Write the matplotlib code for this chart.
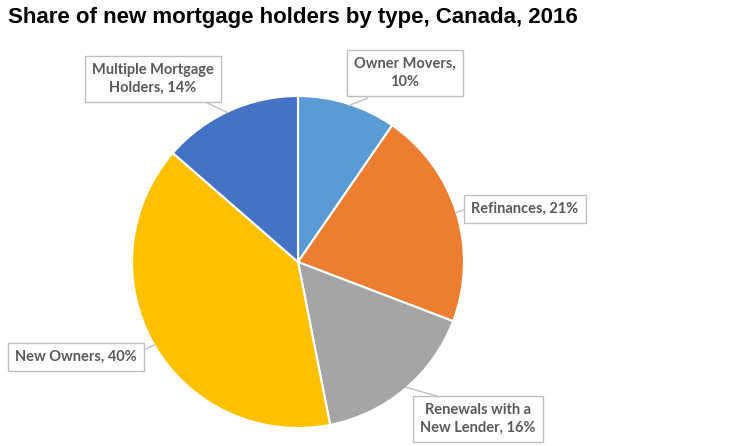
import numpy as np
import matplotlib.pyplot as plt

# data
categories = ["Owner Movers", "Refinances", "Renewals with a\nNew Lender", "New Owners", "Multiple Mortgage\nHolders"]
shares = [9.6, 21.2, 16.1, 39.5, 13.6]
label_names = ["Owner Movers,\n", "Refinances, ", "Renewals with a\nNew Lender, ", "New Owners, ", "Multiple Mortgage\nHolders, "]
colors = ["#5B9BD5", "#ED7D31", "#A5A5A5", "#FFC000", "#4472C4"]

W, H = 736, 446
fig = plt.figure(figsize=(W / 100, H / 100), dpi=100)
ax = fig.add_axes([0, 0, 1, 1])

cx, cy, r = 298, H - 262, 166
wedges, _ = ax.pie(shares, colors=colors, startangle=90, counterclock=False,
                   center=(cx, cy), radius=r, frame=False,
                   wedgeprops=dict(edgecolor="white", linewidth=1.5))
ax.set_xlim(0, W)
ax.set_ylim(0, H)
ax.set_aspect("equal")
ax.axis("off")

fig.text(8 / W, 1 - 18 / H, "Share of new mortgage holders by type, Canada, 2016",
         fontsize=16, fontweight="bold", family="Liberation Sans", va="center", ha="left")

# label box centers (pixels, y from top) and pointer anchor on the box
box_pos = [(405, 73), (525, 209), (478, 419), (76, 357), (153, 79)]
anchor = [(370, 97), (466, 209), (440, 397), (144, 350), (205, 102)]

for i, w in enumerate(wedges):
    mid = np.deg2rad((w.theta1 + w.theta2) / 2)
    px, py = cx + r * 0.98 * np.cos(mid), cy + r * 0.98 * np.sin(mid)
    ax_, ay_ = anchor[i]
    ax.annotate("", xy=(px, py), xytext=(ax_, H - ay_),
                arrowprops=dict(arrowstyle="-", color="#BFBFBF", lw=1.0))
    bx, by = box_pos[i]
    txt = label_names[i] + "%d%%" % round(shares[i])
    ax.text(bx, H - by, txt, ha="center", va="center", fontsize=10.5,
            fontweight="bold", color="#595959", family="Lato", linespacing=1.35,
            bbox=dict(boxstyle="square,pad=0.5", fc="white", ec="#BFBFBF", lw=1.0))

fig.savefig("out.png", dpi=100)
